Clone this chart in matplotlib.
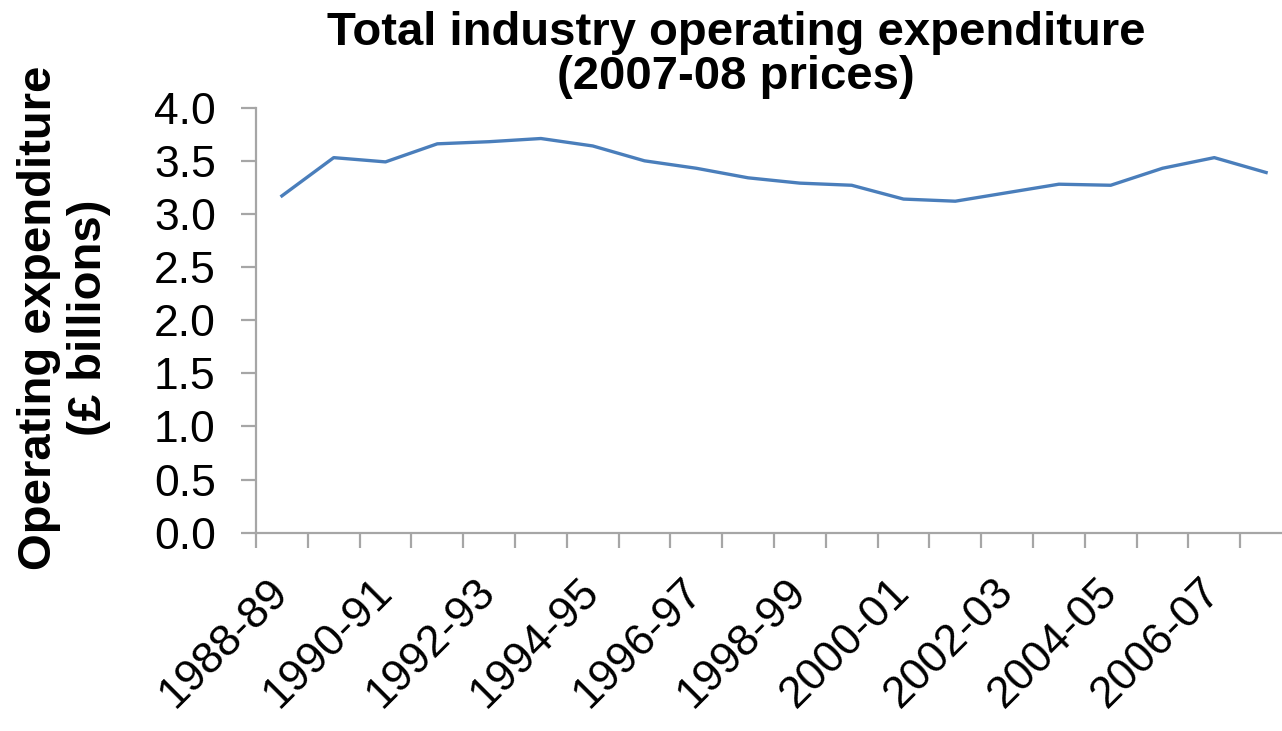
import numpy as np
import matplotlib.pyplot as plt

years = ["1988-89", "1989-90", "1990-91", "1991-92", "1992-93", "1993-94",
         "1994-95", "1995-96", "1996-97", "1997-98", "1998-99", "1999-00",
         "2000-01", "2001-02", "2002-03", "2003-04", "2004-05", "2005-06",
         "2006-07", "2007-08"]
opex = [3.17, 3.53, 3.49, 3.66, 3.68, 3.71, 3.64, 3.50, 3.43, 3.34,
        3.29, 3.27, 3.14, 3.12, 3.20, 3.28, 3.27, 3.43, 3.53, 3.39]
yticks = [0.0, 0.5, 1.0, 1.5, 2.0, 2.5, 3.0, 3.5, 4.0]

plt.rcParams['font.family'] = ['Liberation Sans', 'DejaVu Sans']
W, H = 1282, 731
fig = plt.figure(figsize=(W / 100, H / 100), dpi=100)

# plot area runs past the right edge, as in the cropped original
ax = fig.add_axes([256 / W, (H - 532.7) / H, 1036 / W, 425 / H])

x = np.arange(len(years))
ax.plot(x, opex, color="#4a7ebb", lw=2.4, solid_joinstyle="round")

ax.set_xlim(-0.5, len(years) - 0.5)
ax.set_ylim(0, 4)

grey = "#a6a6a6"
for s in ["top", "right"]:
    ax.spines[s].set_visible(False)
for s in ["left", "bottom"]:
    ax.spines[s].set_color(grey)
    ax.spines[s].set_linewidth(1.6)

ax.set_yticks(yticks)
ax.set_yticklabels([f"{v:.1f}" for v in yticks])
ax.tick_params(axis="y", direction="out", length=11, width=1.6, color=grey,
               labelsize=32, pad=18)

# major ticks on category boundaries, labels on every other category
ax.set_xticks(np.arange(-0.5, len(years) + 0.5, 1))
ax.set_xticklabels([])
ax.tick_params(axis="x", which="major", direction="out", length=11,
               width=1.6, color=grey)
ax.set_xticks(x[::2], minor=True)
ax.set_xticklabels(years[::2], minor=True, rotation=45, ha="right",
                   va="center", rotation_mode="anchor")
ax.tick_params(axis="x", which="minor", length=0, labelsize=32, pad=38)

fig.text(736 / W, 1 - 55 / H, "Total industry operating expenditure\n(2007-08 prices)",
         ha="center", va="center", fontsize=34, fontweight="bold",
         linespacing=0.98)
fig.text(64 / W, 1 - 318 / H, "Operating expenditure\n(£ billions)",
         ha="center", va="center", rotation=90, fontsize=34,
         fontweight="bold", linespacing=1.15)

fig.savefig("out.png", dpi=100)
